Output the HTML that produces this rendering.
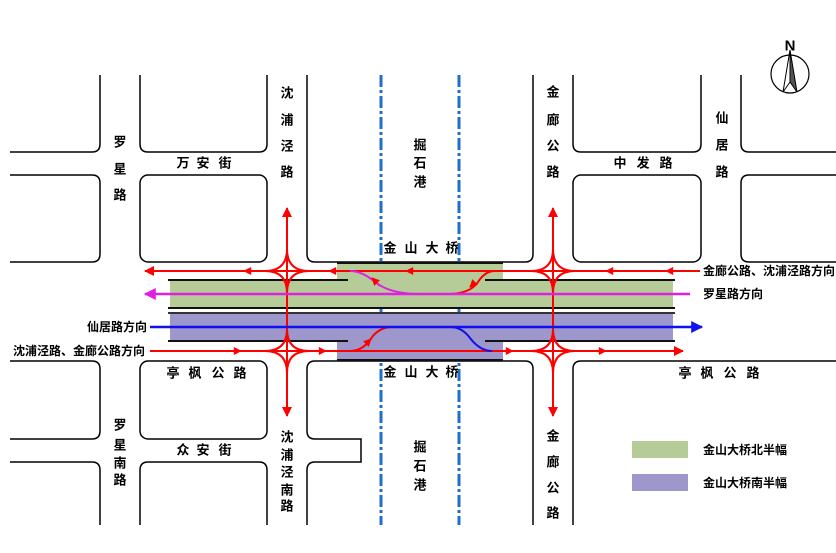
<!DOCTYPE html>
<html><head><meta charset="utf-8"><style>
html,body{margin:0;padding:0;background:#fff;}
svg{display:block}
text{font-family:"Liberation Sans","Noto Sans CJK SC",sans-serif;font-weight:bold;fill:#000}
.c{font-size:13px;text-anchor:middle;dominant-baseline:central}
.l{font-size:12px;dominant-baseline:central}
</style></head><body>
<svg width="836" height="553" viewBox="0 0 836 553" xmlns="http://www.w3.org/2000/svg">
<defs>
<marker id="arR" viewBox="0 0 10 10" refX="9" refY="5" markerWidth="12" markerHeight="10" orient="auto" markerUnits="userSpaceOnUse"><path d="M0,0L10,5L0,10z" fill="#f00"/></marker>
<marker id="arM" viewBox="0 0 10 10" refX="9" refY="5" markerWidth="16" markerHeight="12" orient="auto" markerUnits="userSpaceOnUse"><path d="M0,0L10,5L0,10z" fill="#e020e0"/></marker>
<marker id="arB" viewBox="0 0 10 10" refX="9" refY="5" markerWidth="16" markerHeight="12" orient="auto" markerUnits="userSpaceOnUse"><path d="M0,0L10,5L0,10z" fill="#1010f0"/></marker>
<marker id="arS" viewBox="0 0 10 10" refX="9" refY="5" markerWidth="9" markerHeight="8" orient="auto" markerUnits="userSpaceOnUse"><path d="M0,0L10,5L0,10z" fill="#f00"/></marker>
</defs>
<g fill="none" stroke="#000" stroke-width="1.5">
<path d="M10,152H92Q100,152 100,144V75"/>
<path d="M10,175H92Q100,175 100,183V254Q100,262 92,262H10"/>
<path d="M140,75V144Q140,152 148,152H259Q267,152 267,144V75"/>
<rect x="140" y="175" width="127" height="87" rx="8"/>
<path d="M307,75V254Q307,262 315,262H525Q533,262 533,254V75"/>
<path d="M573,75V144Q573,152 581,152H693Q701,152 701,144V75"/>
<rect x="573" y="175" width="128" height="87" rx="8"/>
<path d="M741,75V144Q741,152 749,152H836"/>
<path d="M836,175H749Q741,175 741,183V254Q741,262 749,262H836"/>
<path d="M10,361H92Q100,361 100,369V431Q100,439 92,439H10"/>
<path d="M10,462H92Q100,462 100,470V525"/>
<rect x="140" y="361" width="127" height="78" rx="8"/>
<path d="M140,525V470Q140,462 148,462H259Q267,462 267,470V525"/>
<path d="M307,525V470Q307,462 315,462H361V439H315Q307,439 307,431V369Q307,361 315,361H525Q533,361 533,369V525"/>
<path d="M573,525V369Q573,361 581,361H836"/>
</g>
<g stroke="#1e6fd0" stroke-width="3" stroke-dasharray="12,3,3,3" fill="none">
<line x1="381" y1="75" x2="381" y2="525"/><line x1="459" y1="75" x2="459" y2="525"/>
</g>
<rect x="337" y="263" width="166" height="18" fill="#b5cc98"/>
<rect x="170" y="281" width="503" height="27" fill="#b5cc98"/>
<rect x="170" y="313" width="503" height="28" fill="#9d97cc"/>
<rect x="337" y="341" width="166" height="19" fill="#9d97cc"/>
<g stroke="#111" stroke-width="2">
<line x1="337" y1="263" x2="503" y2="263"/>
<line x1="168" y1="280" x2="348" y2="280"/><line x1="485" y1="280" x2="675" y2="280"/>
<line x1="168" y1="308" x2="675" y2="308"/><line x1="168" y1="313" x2="675" y2="313" stroke="#333"/>
<line x1="168" y1="341" x2="348" y2="341"/><line x1="485" y1="341" x2="675" y2="341"/>
<line x1="337" y1="360" x2="503" y2="360"/>
</g>
<g fill="none" stroke="#f00" stroke-width="2">
<line x1="700" y1="271" x2="145" y2="271" marker-end="url(#arR)"/>
<line x1="150" y1="351" x2="683" y2="351" marker-end="url(#arR)"/>
<line x1="287" y1="300" x2="287" y2="208" marker-end="url(#arR)"/>
<line x1="287" y1="300" x2="287" y2="416" marker-end="url(#arR)"/>
<line x1="553" y1="300" x2="553" y2="208" marker-end="url(#arR)"/>
<line x1="553" y1="300" x2="553" y2="416" marker-end="url(#arR)"/>
<path d="M250,271h-6" marker-end="url(#arS)"/><path d="M335,271h-6" marker-end="url(#arS)"/>
<path d="M612,271h-6" marker-end="url(#arS)"/><path d="M672,271h-6" marker-end="url(#arS)"/>
<path d="M412,271h-6" marker-end="url(#arS)"/>
<path d="M235,351h6" marker-end="url(#arS)"/><path d="M320,351h6" marker-end="url(#arS)"/>
<path d="M600,351h6" marker-end="url(#arS)"/>
<path d="M507,351h6" marker-end="url(#arS)"/>
<path d="M265,271Q287,271 287,249Q287,271 309,271Q287,271 287,293Q287,271 265,271Z"/>
<path d="M265,351Q287,351 287,329Q287,351 309,351Q287,351 287,373Q287,351 265,351Z"/>
<path d="M531,271Q553,271 553,249Q553,271 575,271Q553,271 553,293Q553,271 531,271Z"/>
<path d="M531,351Q553,351 553,329Q553,351 575,351Q553,351 553,373Q553,351 531,351Z"/>
<path d="M447,294Q470,294 478,282Q485,271 495,271"/>
<path d="M350,351Q362,351 370,340Q378,327 393,327"/>
</g>
<line x1="690" y1="294" x2="145" y2="294" stroke="#e020e0" stroke-width="2.5" marker-end="url(#arM)"/>
<path d="M350,271Q362,271 375,282Q390,294 420,294" fill="none" stroke="#e020e0" stroke-width="2"/>
<path d="M380,286l-8,-8" stroke="#e020e0" stroke-width="2" marker-end="url(#arS)"/>
<line x1="150" y1="327" x2="702" y2="327" stroke="#1010f0" stroke-width="2.5" marker-end="url(#arB)"/>
<path d="M450,327Q462,327 470,338Q480,351 492,351" fill="none" stroke="#1010f0" stroke-width="2"/>
<path d="M475,282l-5,5" stroke="#f00" stroke-width="2" marker-end="url(#arS)"/>
<path d="M366,344l5,-5" stroke="#f00" stroke-width="2" marker-end="url(#arS)"/>
<g class="c">
<text x="120" y="142">罗</text><text x="120" y="169">星</text><text x="120" y="195">路</text>
<text x="183" y="163">万</text><text x="203" y="163">安</text><text x="225" y="163">街</text>
<text x="287" y="93">沈</text><text x="287" y="120">浦</text><text x="287" y="146">泾</text><text x="287" y="172">路</text>
<text x="420" y="145">掘</text><text x="420" y="163">石</text><text x="420" y="182">港</text>
<text x="390" y="248">金</text><text x="411" y="248">山</text><text x="432" y="248">大</text><text x="452" y="248">桥</text>
<text x="553" y="92">金</text><text x="553" y="120">廊</text><text x="553" y="146">公</text><text x="553" y="172">路</text>
<text x="620" y="163">中</text><text x="643" y="163">发</text><text x="666" y="163">路</text>
<text x="722" y="118">仙</text><text x="722" y="145">居</text><text x="722" y="172">路</text>
<text x="173" y="373">亭</text><text x="195" y="373">枫</text><text x="218" y="373">公</text><text x="240" y="373">路</text>
<text x="390" y="372">金</text><text x="411" y="372">山</text><text x="432" y="372">大</text><text x="452" y="372">桥</text>
<text x="685" y="373">亭</text><text x="707" y="373">枫</text><text x="730" y="373">公</text><text x="753" y="373">路</text>
<text x="120" y="425">罗</text><text x="120" y="445">星</text><text x="120" y="463">南</text><text x="120" y="480">路</text>
<text x="183" y="450">众</text><text x="203" y="450">安</text><text x="225" y="450">街</text>
<text x="287" y="437">沈</text><text x="287" y="455">浦</text><text x="287" y="472">泾</text><text x="287" y="490">南</text><text x="287" y="506">路</text>
<text x="420" y="447">掘</text><text x="420" y="466">石</text><text x="420" y="485">港</text>
<text x="553" y="436">金</text><text x="553" y="462">廊</text><text x="553" y="488">公</text><text x="553" y="513">路</text>
</g>
<text class="l" x="703" y="271">金廊公路、沈浦泾路方向</text>
<text class="l" x="703" y="294">罗星路方向</text>
<text class="l" x="147" y="327" text-anchor="end">仙居路方向</text>
<text class="l" x="13" y="351">沈浦泾路、金廊公路方向</text>
<rect x="632" y="441" width="56" height="17" fill="#b5cc98"/>
<rect x="632" y="474" width="56" height="17" fill="#9d97cc"/>
<text class="l" x="703" y="450">金山大桥北半幅</text>
<text class="l" x="703" y="483">金山大桥南半幅</text>
<circle cx="790" cy="74" r="19" fill="none" stroke="#000" stroke-width="1.2"/>
<path d="M790,50L783,92L790,82Z" fill="#fff" stroke="#000"/>
<path d="M790,50L797,92L790,82Z" fill="#555" stroke="#000"/>
<text x="790" y="46" text-anchor="middle" dominant-baseline="central" style="font-size:15px">N</text>
</svg>
</body></html>
